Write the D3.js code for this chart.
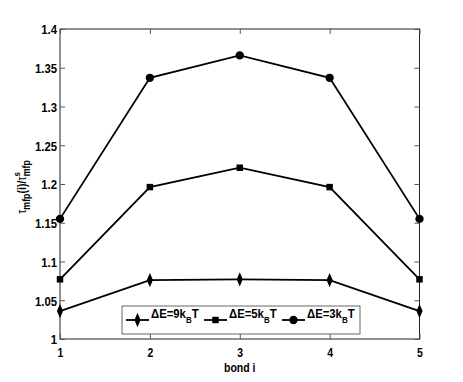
<!DOCTYPE html>
<html><head><meta charset="utf-8">
<script src="https://cdn.jsdelivr.net/npm/d3@7"></script>
<style>body{margin:0;background:#fff}svg{display:block}</style>
</head><body>
<script>
const bonds = [1, 2, 3, 4, 5];
const e9 = [1.036, 1.076, 1.077, 1.076, 1.036];
const e5 = [1.077, 1.196, 1.221, 1.196, 1.077];
const e3 = [1.155, 1.337, 1.366, 1.337, 1.155];
const yTicks = [1, 1.05, 1.1, 1.15, 1.2, 1.25, 1.3, 1.35, 1.4];
const xTicks = [1, 2, 3, 4, 5];
const seriesNames = ["9", "5", "3"];

const W = 463, H = 382;
const m = {l: 60, r: 43.5, t: 29, b: 43};
const svg = d3.select("body").append("svg").attr("width", W).attr("height", H);
const x = d3.scaleLinear().domain([1, 5]).range([m.l, W - m.r]);
const y = d3.scaleLinear().domain([1, 1.4]).range([H - m.b, m.t]);
const font = "'Liberation Sans',Arial,sans-serif";
const SX = 0.84;

// frame
svg.append("rect").attr("x", x(1)).attr("y", y(1.4)).attr("width", x(5) - x(1)).attr("height", y(1) - y(1.4))
  .attr("fill", "none").attr("stroke", "#222").attr("stroke-width", 1);

const tl = 5;
const gL = svg.append("g").attr("transform", `translate(${x(1)},0)`)
  .call(d3.axisLeft(y).tickValues(yTicks).tickSize(-tl).tickPadding(3.5).tickFormat(d => d3.format("")(+d.toFixed(2))));
const gR = svg.append("g").attr("transform", `translate(${x(5)},0)`)
  .call(d3.axisRight(y).tickValues(yTicks).tickSize(-tl).tickFormat(""));
const gB = svg.append("g").attr("transform", `translate(0,${y(1)})`)
  .call(d3.axisBottom(x).tickValues(xTicks).tickSize(-tl).tickPadding(9.5).tickFormat(d3.format("d")));
const gT = svg.append("g").attr("transform", `translate(0,${y(1.4)})`)
  .call(d3.axisTop(x).tickValues(xTicks).tickSize(-tl).tickFormat(""));
[gL, gR, gB, gT].forEach(g => {
  g.select(".domain").remove();
  g.selectAll("line").attr("stroke", "#555");
  g.selectAll("text").attr("font-family", font).attr("font-size", 13.5).attr("font-weight", "bold")
    .attr("fill", "#000").attr("transform", `scale(${SX},1)`);
});
gB.selectAll("text").attr("font-size", 12.5);
gL.selectAll("text").attr("dy", "0.36em");

const line = d3.line().x((d, i) => x(bonds[i])).y(d => y(d));
const data = [e9, e5, e3];
const syms = [d3.symbolDiamond, d3.symbolSquare, d3.symbolCircle];
const symSizes = [45, 42, 55];
data.forEach((s, k) => {
  svg.append("path").attr("d", line(s)).attr("fill", "none").attr("stroke", "#000").attr("stroke-width", 1.8);
  svg.selectAll(null).data(s).enter().append("path")
    .attr("d", d3.symbol().type(syms[k]).size(symSizes[k]))
    .attr("transform", (d, i) => `translate(${x(bonds[i])},${y(d)})` + (k === 0 ? " scale(0.85,1.15)" : ""))
    .attr("fill", "#000");
});

// x label
svg.append("text").attr("transform", `translate(${x(3)},372) scale(${SX},1)`).attr("text-anchor", "middle")
  .attr("font-family", font).attr("font-size", 12.5).attr("font-weight", "bold").text("bond i");

// y label
const yl = svg.append("text").attr("transform", `translate(26,${(y(1) + y(1.4)) / 2 + 3}) rotate(-90) scale(${SX},1)`)
  .attr("text-anchor", "middle").attr("font-family", font).attr("font-size", 12.5).attr("font-weight", "bold");
yl.append("tspan").attr("font-weight", "normal").text("τ");
yl.append("tspan").attr("dy", 4).attr("font-size", 10.5).text("mfp");
yl.append("tspan").attr("dy", -4).text("(i)/");
yl.append("tspan").attr("font-weight", "normal").text("τ");
yl.append("tspan").attr("dy", -6).attr("font-size", 9.5).text("s");
yl.append("tspan").attr("dx", -5).attr("dy", 10).attr("font-size", 10.5).text("mfp");

// legend
const lg = svg.append("g");
lg.append("rect").attr("x", 122).attr("y", 306).attr("width", 238).attr("height", 28)
  .attr("fill", "#fff").attr("stroke", "#666").attr("stroke-width", 1);
const lx = [126, 204, 282];
seriesNames.forEach((n, k) => {
  const cy = 320;
  lg.append("line").attr("x1", lx[k]).attr("x2", lx[k] + 23).attr("y1", cy).attr("y2", cy).attr("stroke", "#000").attr("stroke-width", 1.8);
  lg.append("path").attr("d", d3.symbol().type(syms[k]).size(symSizes[k]))
    .attr("transform", `translate(${lx[k] + 11.5},${cy})` + (k === 0 ? " scale(0.85,1.15)" : "")).attr("fill", "#000");
  const t = lg.append("text").attr("transform", `translate(${lx[k] + 25},318) scale(${SX},1)`)
    .attr("font-family", font).attr("font-size", 13.5).attr("font-weight", "bold");
  t.append("tspan").text("ΔE=" + n + "k");
  t.append("tspan").attr("dy", 5).attr("font-size", 9.5).text("B");
  t.append("tspan").attr("dy", -5).text("T");
});
</script>
</body></html>
